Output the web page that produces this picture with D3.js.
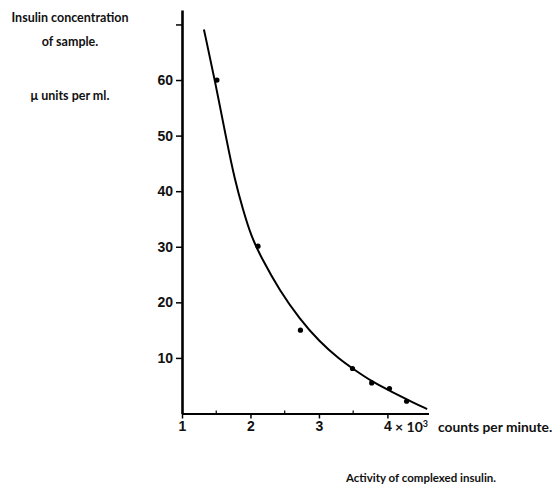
<!DOCTYPE html>
<html>
<head>
<meta charset="utf-8">
<script src="https://cdn.jsdelivr.net/npm/d3@7"></script>
<style>
  body { margin: 0; background: #fff; }
  svg { display: block; font-family: "Lato", "Open Sans", sans-serif; }
  .lbl { font-weight: 700; fill: #111; }
</style>
</head>
<body>
<div class="chart_container"></div>
<script>
// measured points (activity x 10^3 cpm, insulin uU/ml)
const pointX = [1.51, 2.11, 2.73, 3.49, 3.77, 4.03, 4.28];
const pointY = [60, 30.1, 15, 8.1, 5.5, 4.5, 2.2];

// hand drawn standard curve
const curveX = [1.32, 1.48, 1.65, 1.77, 1.89, 2.01, 2.16, 2.43, 2.72, 3.0, 3.3, 3.49, 3.79, 4.08, 4.37, 4.58];
const curveY = [69.1, 60, 49.2, 42.1, 36.7, 31.9, 28, 22, 17, 13, 9.75, 8.1, 5.6, 3.8, 2.0, 0.8];

const xTicks = [1, 2, 3, 4];
const xMinorTicks = [1.5, 2.5, 3.5];
const yTicks = [10, 20, 30, 40, 50, 60, 70];
const yTickLabels = ['10', '20', '30', '40', '50', '60', ''];

const yTitle = ['Insulin concentration', 'of sample.', 'μ units per ml.'];
const xTitle = 'Activity of complexed insulin.';

const width = 556, height = 487;

const svg = d3.select('.chart_container').append('svg')
  .attr('width', width)
  .attr('height', height);

const x = d3.scaleLinear().domain([1, 4.6]).range([182, 428.5]);
const y = d3.scaleLinear().domain([0, 72.6]).range([413.5, 10]);

// x axis: major ticks down, small half-unit ticks up
const xAxis = svg.append('g')
  .attr('transform', 'translate(0,' + y(0) + ')')
  .call(d3.axisBottom(x).tickValues(xTicks).tickFormat(d3.format('d'))
    .tickSizeInner(5).tickSizeOuter(0).tickPadding(3));
xAxis.select('.domain').attr('stroke-width', 2);
xAxis.selectAll('.tick line').attr('stroke-width', 1.5);
xAxis.selectAll('.tick text')
  .attr('class', 'lbl').style('font-size', '14px').style('font-family', null);

svg.append('g').selectAll('line')
  .data(xMinorTicks)
  .enter().append('line')
    .attr('x1', d => x(d)).attr('x2', d => x(d))
    .attr('y1', y(0)).attr('y2', y(0) - 3)
    .attr('stroke', '#000').attr('stroke-width', 1.2);

// y axis
const yAxis = svg.append('g')
  .attr('transform', 'translate(' + x(1) + ',0)')
  .call(d3.axisLeft(y).tickValues(yTicks).tickFormat((d, i) => yTickLabels[i])
    .tickSizeInner(6).tickSizeOuter(0).tickPadding(3));
yAxis.select('.domain').attr('stroke-width', 2.6);
yAxis.selectAll('.tick line').attr('stroke-width', 1.5);
yAxis.selectAll('.tick text')
  .attr('class', 'lbl').style('font-size', '14px').style('font-family', null);
svg.selectAll('.domain').attr('fill', 'none').attr('stroke', '#000');
svg.selectAll('.tick line').attr('stroke', '#000');

// the curve
const line = d3.line()
  .x(d => x(d[0]))
  .y(d => y(d[1]))
  .curve(d3.curveBasis);

svg.append('path')
  .datum(curveX.map((d, i) => [d, curveY[i]]))
  .attr('d', line)
  .attr('fill', 'none')
  .attr('stroke', '#000')
  .attr('stroke-width', 2);

svg.append('g').selectAll('circle')
  .data(pointX.map((d, i) => [d, pointY[i]]))
  .enter().append('circle')
    .attr('cx', d => x(d[0]))
    .attr('cy', d => y(d[1]))
    .attr('r', 2.6)
    .attr('fill', '#000');

// units after the last x tick
const unit = svg.append('text')
  .attr('class', 'lbl')
  .attr('x', 395)
  .attr('y', 432)
  .style('font-size', '14px');
unit.append('tspan').text('× 10');
unit.append('tspan').attr('dy', -5).style('font-size', '9px').text('3');
svg.append('text')
  .attr('class', 'lbl')
  .attr('x', 438)
  .attr('y', 432)
  .style('font-size', '13.8px')
  .text('counts per minute.');

// axis titles
svg.append('g').selectAll('text')
  .data(yTitle)
  .enter().append('text')
    .attr('class', 'lbl')
    .attr('x', 70)
    .attr('y', (d, i) => [22, 46, 100][i])
    .attr('text-anchor', 'middle')
    .style('font-size', '12.5px')
    .text(d => d);

svg.append('text')
  .attr('class', 'lbl')
  .attr('x', 421)
  .attr('y', 482)
  .attr('text-anchor', 'middle')
  .style('font-size', '11.5px')
  .text(xTitle);
</script>
</body>
</html>
